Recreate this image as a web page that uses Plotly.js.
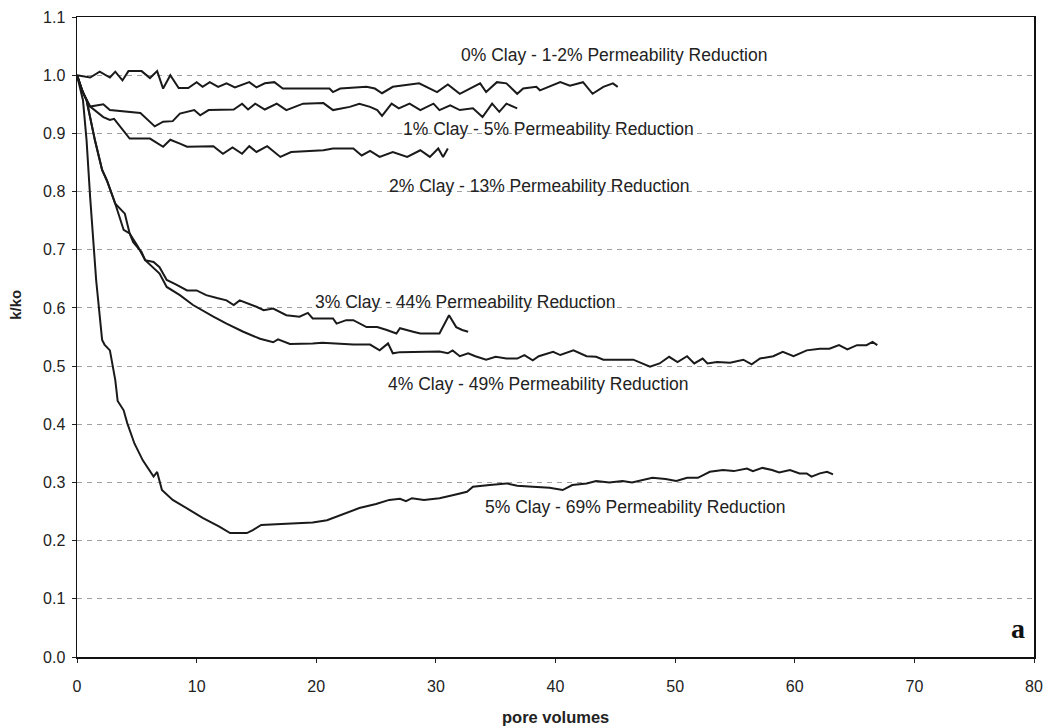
<!DOCTYPE html>
<html>
<head>
<meta charset="utf-8">
<script src="https://cdn.plot.ly/plotly-3.0.1.min.js"></script>
<style>
html,body{margin:0;padding:0;background:#fff;}
#chart{width:1050px;height:727px;}
</style>
</head>
<body>
<div id="chart"></div>
<script>
// ---- data (pore volumes vs k/ko) ----
const seriesNames = ["0% Clay", "1% Clay", "2% Clay", "3% Clay", "4% Clay", "5% Clay"];

const clay0X = [0,1.1,1.9,2.75,3.2,3.8,4.3,5.4,6.1,6.7,7.2,7.8,8.5,9.3,10.0,10.5,11.1,11.8,12.5,13.2,14.4,15.0,15.7,16.5,17.2,21.1,21.4,22.0,24.2,24.9,25.5,26.4,28.6,30.1,31.0,32.0,33.7,34.2,35.1,35.9,36.8,37.3,38.4,38.7,40.4,41.2,42.3,43.1,44.0,44.8,45.2];
const clay0Y = [1.0,0.996,1.006,0.996,1.006,0.991,1.007,1.007,0.995,1.007,0.977,1.0,0.978,0.978,0.988,0.98,0.988,0.98,0.986,0.979,0.988,0.979,0.986,0.988,0.977,0.977,0.971,0.977,0.98,0.977,0.969,0.98,0.986,0.971,0.984,0.968,0.986,0.971,0.988,0.986,0.968,0.977,0.98,0.974,0.988,0.982,0.988,0.968,0.98,0.986,0.98];

const clay1X = [0,0.5,1.1,2.2,2.75,5.3,6.5,7.2,8.0,8.6,9.8,10.3,11.0,13.1,13.8,14.3,14.9,15.7,16.7,17.5,18.9,20.6,21.4,22.8,23.6,24.5,25.1,25.5,26.3,26.9,27.8,28.7,29.8,30.3,31.2,32.0,33.1,33.9,34.7,35.3,35.9,36.8];
const clay1Y = [1.0,0.97,0.946,0.95,0.94,0.935,0.912,0.92,0.921,0.934,0.94,0.931,0.94,0.941,0.951,0.941,0.951,0.941,0.951,0.94,0.951,0.952,0.94,0.9455,0.951,0.9455,0.94,0.93,0.951,0.943,0.951,0.94,0.951,0.94,0.948,0.94,0.943,0.928,0.951,0.937,0.951,0.943];

const clay2X = [0,0.5,1.1,2.2,2.75,3.1,4.4,6.1,7.2,7.8,8.6,9.2,11.4,12.2,13.0,13.8,14.4,15.0,15.9,17.0,17.9,20.6,21.4,23.1,23.8,24.5,25.3,26.4,27.6,28.7,29.5,30.2,30.6,31.0];
const clay2Y = [1.0,0.97,0.946,0.928,0.923,0.925,0.891,0.891,0.877,0.889,0.8825,0.877,0.878,0.865,0.876,0.865,0.878,0.868,0.878,0.8595,0.868,0.871,0.874,0.874,0.862,0.87,0.8595,0.868,0.8595,0.871,0.8595,0.874,0.8595,0.874];

const clay3X = [0,0.4,0.8,1.5,2.1,2.5,3.2,4.0,4.4,4.7,5.4,5.7,6.4,6.9,7.5,8.3,9.2,10.0,10.8,11.7,12.5,13.1,13.6,15.0,15.6,16.4,17.5,18.6,19.3,19.7,21.4,21.7,22.5,23.1,24.2,25.1,25.9,26.7,27.0,28.1,28.7,30.3,31.1,31.7,32.2,32.7];
const clay3Y = [1.0,0.975,0.957,0.888,0.837,0.819,0.779,0.762,0.728,0.713,0.696,0.682,0.679,0.670,0.648,0.640,0.630,0.630,0.622,0.617,0.613,0.605,0.613,0.602,0.596,0.599,0.5875,0.585,0.5915,0.582,0.582,0.573,0.579,0.579,0.567,0.567,0.562,0.556,0.565,0.559,0.556,0.556,0.5875,0.567,0.562,0.559];

const clay4X = [0,0.4,0.8,1.5,2.1,2.5,3.2,3.9,4.4,5.1,5.7,6.9,7.5,8.6,9.7,11.4,12.5,13.9,15.3,16.4,16.8,17.8,19.7,20.5,23.1,24.5,25.3,26.0,26.4,27.0,30.3,31.0,31.4,32.0,32.7,33.3,34.2,35.0,35.9,36.8,37.4,38.1,38.6,39.8,40.4,41.5,42.6,43.4,44.0,46.5,47.9,48.7,49.5,50.2,51.0,51.6,52.3,52.7,53.5,54.6,55.7,56.4,57.1,58.2,59.0,59.9,61.0,62.1,62.9,63.7,64.4,65.2,66.0,66.5,66.9];
const clay4Y = [1.0,0.975,0.957,0.888,0.837,0.819,0.779,0.734,0.728,0.705,0.682,0.659,0.636,0.622,0.605,0.585,0.573,0.559,0.547,0.541,0.546,0.538,0.539,0.54,0.537,0.537,0.527,0.539,0.522,0.524,0.525,0.522,0.527,0.517,0.522,0.517,0.511,0.516,0.513,0.513,0.519,0.51,0.517,0.5245,0.519,0.527,0.517,0.516,0.511,0.511,0.499,0.5045,0.516,0.507,0.517,0.5045,0.513,0.5045,0.507,0.5056,0.511,0.503,0.513,0.517,0.5245,0.517,0.527,0.53,0.53,0.536,0.5286,0.536,0.536,0.5417,0.536];

const clay5X = [0,0.5,0.8,1.1,1.6,2.1,2.3,2.75,3.2,3.4,3.9,4.2,4.8,5.5,6.4,6.7,7.1,8.0,9.4,10.5,11.9,12.8,14.2,14.7,15.4,17.5,19.7,20.9,23.6,25.0,26.1,27.0,27.5,28.0,29.0,30.3,31.4,32.6,33.1,34.5,35.9,36.8,38.1,39.5,40.6,41.4,42.6,43.4,44.5,45.6,46.4,48.1,49.2,50.1,51.0,51.9,52.9,54.0,54.9,56.0,56.5,57.3,58.1,58.7,59.6,60.4,61.0,61.4,62.1,62.7,63.2];
const clay5Y = [1.0,0.957,0.888,0.79,0.648,0.545,0.537,0.527,0.476,0.44,0.424,0.402,0.367,0.338,0.31,0.318,0.287,0.27,0.253,0.239,0.224,0.213,0.213,0.218,0.227,0.229,0.231,0.235,0.256,0.263,0.27,0.272,0.268,0.273,0.27,0.273,0.278,0.284,0.2926,0.2955,0.2984,0.2943,0.2926,0.291,0.287,0.2955,0.2984,0.3024,0.300,0.3024,0.300,0.308,0.3058,0.3024,0.308,0.308,0.3184,0.3213,0.3195,0.324,0.3195,0.325,0.3213,0.317,0.3213,0.3156,0.3156,0.31,0.3156,0.3184,0.314];

const curveLabels = [
  "0% Clay - 1-2% Permeability Reduction",
  "1% Clay - 5% Permeability Reduction",
  "2% Clay - 13% Permeability Reduction",
  "3% Clay - 44% Permeability Reduction",
  "4% Clay - 49% Permeability Reduction",
  "5% Clay - 69% Permeability Reduction"
];
const xTickVals = [0,10,20,30,40,50,60,70,80];
const yTickVals = [0,0.1,0.2,0.3,0.4,0.5,0.6,0.7,0.8,0.9,1.0,1.1];
const xTitle = "pore volumes";
const yTitle = "k/ko";
const panelTag = "a";

// ---- traces ----
const xs = [clay0X, clay1X, clay2X, clay3X, clay4X, clay5X];
const ys = [clay0Y, clay1Y, clay2Y, clay3Y, clay4Y, clay5Y];
const traces = xs.map((x, i) => ({
  type: "scatter", mode: "lines", name: seriesNames[i],
  x: x, y: ys[i],
  line: {color: "#1a1a1a", width: 2, simplify: false},
  hoverinfo: "skip"
}));

// label anchor positions (data coords)
const labelPos = [[44.9,1.034],[39.4,0.908],[38.7,0.810],[32.5,0.611],[38.6,0.469],[46.7,0.258]];
const font = "Liberation Sans, Arial, Helvetica, sans-serif";
const annotations = curveLabels.map((t, i) => ({
  text: t, x: labelPos[i][0], y: labelPos[i][1], xref: "x", yref: "y",
  showarrow: false, xanchor: "center", yanchor: "middle",
  font: {family: font, size: 17.5, color: "#222"}
}));
annotations.push({
  text: "<b>" + panelTag + "</b>", x: 0.983, y: 0.045, xref: "paper", yref: "paper",
  showarrow: false, xanchor: "center", yanchor: "middle",
  font: {family: "Liberation Serif, Times New Roman, serif", size: 28, color: "#111"}
});
annotations.push({
  text: "<b>" + yTitle + "</b>", x: -0.065, y: 0.55, xref: "paper", yref: "paper",
  showarrow: false, textangle: -90, xanchor: "center", yanchor: "middle",
  font: {family: font, size: 15, color: "#222"}
});
annotations.push({
  text: "<b>" + xTitle + "</b>", x: 0.5, y: -0.094, xref: "paper", yref: "paper",
  showarrow: false, xanchor: "center", yanchor: "middle",
  font: {family: font, size: 16.5, color: "#222"}
});

const layout = {
  width: 1050, height: 727,
  margin: {l: 77, r: 16, t: 17, b: 70, pad: 0},
  paper_bgcolor: "#fff", plot_bgcolor: "#fff",
  showlegend: false,
  hovermode: false,
  xaxis: {
    range: [0, 80], tickvals: xTickVals, ticks: "outside", ticklen: 4, tickwidth: 1, tickcolor: "#222",
    showline: true, mirror: true, linecolor: "#111", linewidth: 1.5,
    showgrid: false, zeroline: false, ticklabelstandoff: 10,
    tickfont: {family: font, size: 16, color: "#222"}
  },
  yaxis: {
    range: [0, 1.1], tickvals: yTickVals, tickformat: ".1f", ticks: "outside", ticklen: 4, tickwidth: 1, tickcolor: "#222",
    showline: true, mirror: true, linecolor: "#111", linewidth: 1.5,
    showgrid: true, gridcolor: "#a0a0a0", gridwidth: 1, griddash: "5px,5px",
    zeroline: false, ticklabelstandoff: 3,
    tickfont: {family: font, size: 16, color: "#222"}
  },
  annotations: annotations
};

Plotly.newPlot("chart", traces, layout, {displayModeBar: false, staticPlot: true});
</script>
</body>
</html>
